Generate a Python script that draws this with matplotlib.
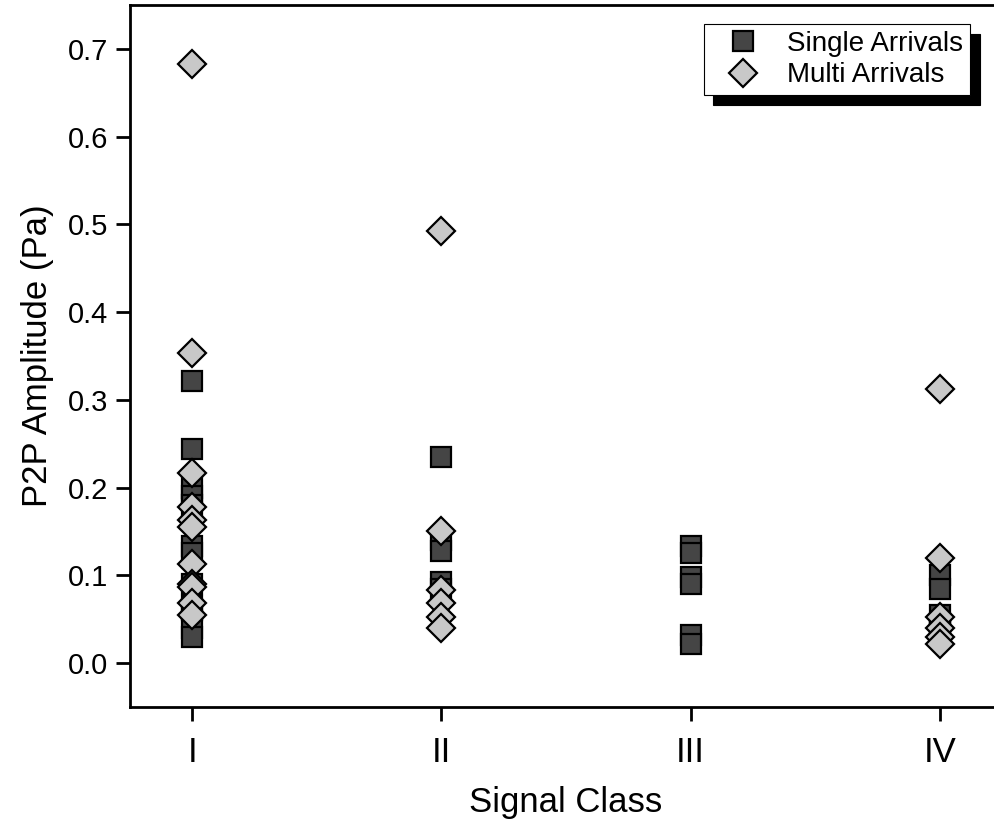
import matplotlib
matplotlib.use("Agg")
import matplotlib.pyplot as plt

plt.rcParams['font.family'] = ['Liberation Sans', 'DejaVu Sans']

classes = ['I', 'II', 'III', 'IV']

# single arrivals (amplitude in Pa per signal class)
single_I = [0.321, 0.244, 0.200, 0.190, 0.180, 0.134, 0.125, 0.090, 0.065, 0.060, 0.040, 0.030]
single_II = [0.235, 0.140, 0.128, 0.092, 0.085]
single_III = [0.134, 0.125, 0.098, 0.090, 0.032, 0.022]
single_IV = [0.100, 0.085, 0.055, 0.045, 0.035]

# multi arrivals
multi_I = [0.683, 0.353, 0.217, 0.178, 0.163, 0.155, 0.113, 0.090, 0.087, 0.068, 0.055]
multi_II = [0.493, 0.151, 0.083, 0.068, 0.052, 0.040]
multi_III = []
multi_IV = [0.312, 0.120, 0.052, 0.040, 0.030, 0.022]

single = [single_I, single_II, single_III, single_IV]
multi = [multi_I, multi_II, multi_III, multi_IV]

fig = plt.figure(figsize=(9.94, 8.24), dpi=100)
ax = fig.add_axes([130 / 994, 117 / 824, 872 / 994, 702 / 824])

sx, sy, mx, my = [], [], [], []
for i, vals in enumerate(single):
    sx += [i + 1] * len(vals)
    sy += vals
for i, vals in enumerate(multi):
    mx += [i + 1] * len(vals)
    my += vals

ax.plot(sx, sy, linestyle='none', marker='s', markersize=14.5,
        markerfacecolor='#454545', markeredgecolor='black', markeredgewidth=1.6,
        label='Single Arrivals')
ax.plot(mx, my, linestyle='none', marker='D', markersize=14.5,
        markerfacecolor='#c8c8c8', markeredgecolor='black', markeredgewidth=1.6,
        label='Multi Arrivals')

ax.set_xlim(0.75, 4.25)
ax.set_ylim(-0.05, 0.75)
ax.set_xticks([1, 2, 3, 4])
ax.set_xticklabels(classes, fontsize=25)
ax.set_yticks([0.0, 0.1, 0.2, 0.3, 0.4, 0.5, 0.6, 0.7])
ax.set_yticklabels(['%.1f' % v for v in ax.get_yticks()], fontsize=21)
ax.tick_params(direction='out', length=10, width=2, pad=6)
ax.tick_params(axis='x', pad=11)
for s in ax.spines.values():
    s.set_linewidth(2)
ax.spines['right'].set_visible(False)

ax.set_xlabel('Signal Class', fontsize=25, labelpad=12)
ax.set_ylabel('P2P Amplitude (Pa)', fontsize=25, labelpad=10)

leg = ax.legend(loc='upper right', bbox_to_anchor=(970 / 994, 1 - 24 / 824),
                bbox_transform=fig.transFigure, borderaxespad=0,
                fontsize=20, frameon=True, fancybox=False,
                shadow={'ox': 7, 'oy': -7, 'facecolor': 'black',
                        'edgecolor': 'black', 'alpha': 1},
                borderpad=0.25, labelspacing=0.2, handlelength=2.3,
                handletextpad=0.45)
leg.get_frame().set_edgecolor('black')
leg.get_frame().set_linewidth(0.8)
leg.get_frame().set_alpha(1)

fig.savefig('out.png', dpi=100)
